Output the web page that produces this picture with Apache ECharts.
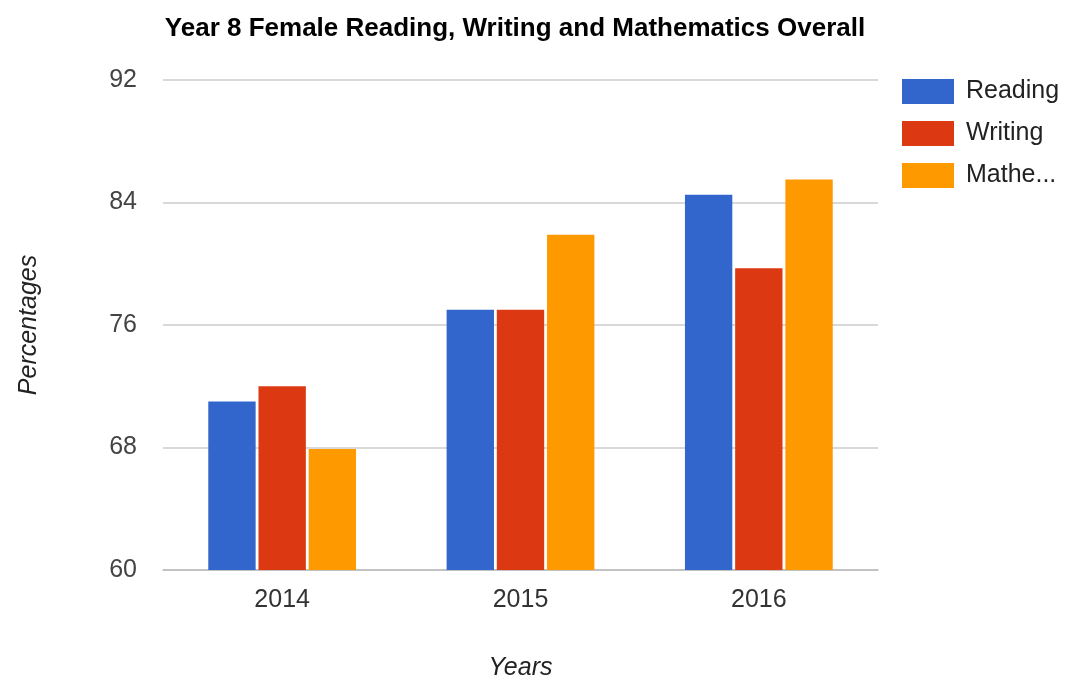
<!DOCTYPE html>
<html>
<head>
<meta charset="utf-8">
<script src="https://cdn.jsdelivr.net/npm/echarts@6/dist/echarts.min.js"></script>
<style>
  html, body { margin: 0; padding: 0; background: #fff; }
  #chart { width: 1068px; height: 686px; }
</style>
</head>
<body>
<div id="chart"></div>
<script>
const years = ['2014', '2015', '2016'];
const reading = [71, 77, 84.5];
const writing = [72, 77, 79.7];
const mathematics = [67.9, 81.9, 85.5];
const yTicks = { min: 60, max: 92, interval: 8 };

const chart = echarts.init(document.getElementById('chart'), null, { renderer: 'canvas' });

const font = 'Liberation Sans, Arial, sans-serif';

chart.setOption({
    animation: false,
    color: ['#3366cc', '#dc3912', '#ff9900'],
    textStyle: { fontFamily: font },
    title: {
        text: 'Year 8 Female Reading, Writing and Mathematics Overall',
        left: 510,
        top: 11,
        textAlign: 'center',
        textStyle: { fontSize: 26, fontWeight: 'bold', color: '#000', fontFamily: font }
    },
    legend: {
        orient: 'vertical',
        left: 897,
        top: 74,
        itemWidth: 52,
        itemHeight: 25,
        itemGap: 17,
        icon: 'rect',
        // 图例文字过长时截断
        formatter: name => name.length > 8 ? name.slice(0, 5) + '...' : name,
        textStyle: {
            fontSize: 25, color: '#222', fontFamily: font,
            padding: [0, 0, 0, 7]
        },
        data: ['Reading', 'Writing', 'Mathematics']
    },
    grid: { left: 163, right: 190, top: 80, bottom: 114 },
    xAxis: {
        type: 'category',
        data: years,
        name: 'Years',
        nameLocation: 'middle',
        nameGap: 86,
        nameTextStyle: { fontSize: 25, fontStyle: 'italic', color: '#222', fontFamily: font },
        axisTick: { show: false },
        axisLine: { lineStyle: { color: '#bbb', width: 1.5 } },
        axisLabel: { fontSize: 25, color: '#333', margin: 18, fontFamily: font }
    },
    yAxis: {
        type: 'value',
        min: yTicks.min,
        max: yTicks.max,
        interval: yTicks.interval,
        name: 'Percentages',
        nameLocation: 'middle',
        nameGap: 121,
        nameTextStyle: { fontSize: 25, fontStyle: 'italic', color: '#222', fontFamily: font },
        axisLine: { show: false },
        axisTick: { show: false },
        axisLabel: { fontSize: 25, color: '#444', margin: 26, fontFamily: font },
        splitLine: { lineStyle: { color: '#ccc', width: 1.5 } }
    },
    series: [
        { name: 'Reading', type: 'bar', data: reading, barGap: '6%', barCategoryGap: '38%' },
        { name: 'Writing', type: 'bar', data: writing, barGap: '6%', barCategoryGap: '38%' },
        { name: 'Mathematics', type: 'bar', data: mathematics, barGap: '6%', barCategoryGap: '38%' }
    ]
});

window.addEventListener('resize', () => chart.resize());
</script>
</body>
</html>
